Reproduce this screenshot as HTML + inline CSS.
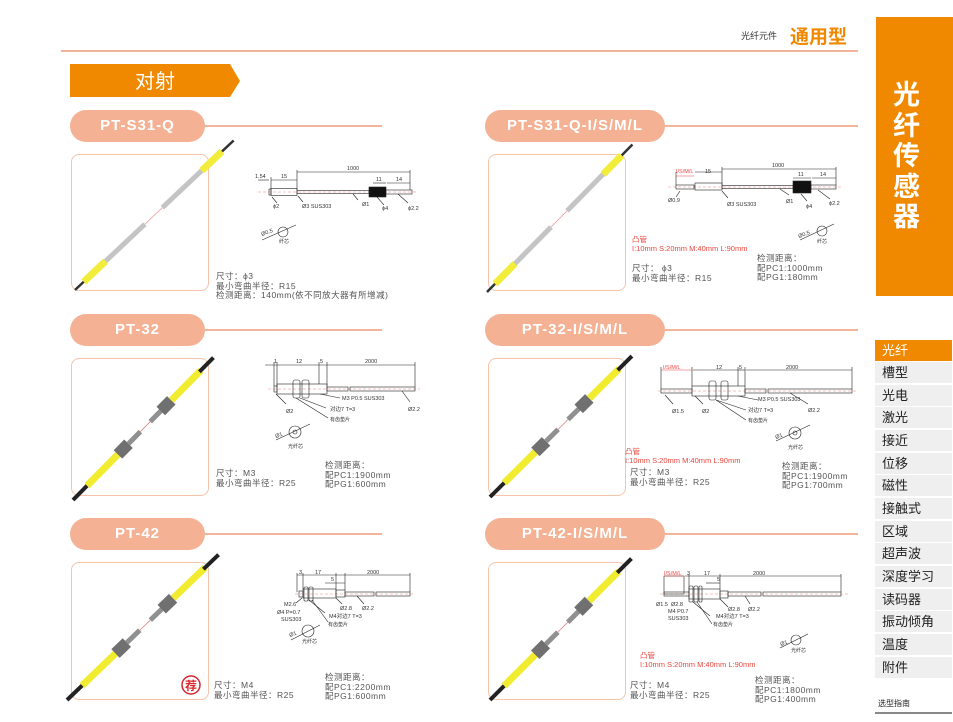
<!DOCTYPE html>
<html><head><meta charset="utf-8">
<style>
html,body{margin:0;padding:0;background:#fff;}
body{width:953px;height:722px;position:relative;overflow:hidden;font-family:"Liberation Sans","Noto Sans CJK SC",sans-serif;}
.a{position:absolute;white-space:nowrap;}
.pill{position:absolute;height:32px;border-radius:16px;background:#f4b193;color:#fff;font-weight:bold;font-size:15px;letter-spacing:1px;text-align:center;line-height:32px;}
.ln{position:absolute;height:2px;background:#f4b49c;}
.box{position:absolute;border:1px solid #f5c3aa;border-radius:8px;background:#fff;}
.t{font-size:8.5px;color:#555;line-height:9.5px;letter-spacing:0.5px;}
.r{color:#e8463c;font-size:7.5px;line-height:9px;}
.side{position:absolute;left:875px;width:77px;height:21px;background:#efefef;color:#222;font-size:13px;line-height:21px;padding-left:7px;box-sizing:border-box;}
</style></head><body>

<div class="a" style="left:741px;top:29px;font-size:9px;color:#333;">光纤元件</div>
<div class="a" style="left:790px;top:22px;font-size:19px;font-weight:bold;color:#f08800;">通用型</div>
<div class="ln" style="left:61px;top:50px;width:797px;"></div>

<div class="a" style="left:876px;top:17px;width:77px;height:279px;background:#f08800;"></div>
<div class="a" style="left:893px;top:80px;width:30px;font-size:27px;font-weight:bold;color:#fff;line-height:30.5px;white-space:normal;">光纤传感器</div>

<svg class="a" style="left:70px;top:64px" width="172" height="34"><polygon points="0,0 160,0 170,17 160,33 0,33" fill="#f08800"/><text x="85" y="24" font-size="20" fill="#fff" text-anchor="middle" font-family="Liberation Sans,Noto Sans CJK SC,sans-serif">对射</text></svg>

<div class="pill" style="left:70px;top:110px;width:135px;">PT-S31-Q</div>
<div class="ln" style="left:205px;top:125px;width:177px;"></div>
<div class="pill" style="left:485px;top:110px;width:180px;">PT-S31-Q-I/S/M/L</div>
<div class="ln" style="left:665px;top:125px;width:193px;"></div>
<div class="pill" style="left:70px;top:314px;width:135px;">PT-32</div>
<div class="ln" style="left:205px;top:329px;width:177px;"></div>
<div class="pill" style="left:485px;top:314px;width:180px;">PT-32-I/S/M/L</div>
<div class="ln" style="left:665px;top:329px;width:193px;"></div>
<div class="pill" style="left:70px;top:518px;width:135px;">PT-42</div>
<div class="ln" style="left:205px;top:533px;width:177px;"></div>
<div class="pill" style="left:485px;top:518px;width:180px;">PT-42-I/S/M/L</div>
<div class="ln" style="left:665px;top:533px;width:193px;"></div>

<div class="box" style="left:71px;top:154px;width:136px;height:135px;"></div>
<div class="box" style="left:488px;top:154px;width:136px;height:135px;"></div>
<div class="box" style="left:71px;top:358px;width:136px;height:136px;"></div>
<div class="box" style="left:488px;top:358px;width:136px;height:136px;"></div>
<div class="box" style="left:71px;top:562px;width:136px;height:136px;"></div>
<div class="box" style="left:488px;top:562px;width:136px;height:136px;"></div>

<svg class="a" style="left:0;top:0" width="953" height="722" font-family="Liberation Sans,Noto Sans CJK SC,sans-serif">
<defs>
<g id="s31">
<line x1="0" y1="0" x2="14" y2="0" stroke="#333" stroke-width="2.5"/>
<rect x="12" y="-3.5" width="30" height="7" fill="#f2ec3a"/>
<rect x="42" y="-2.5" width="54" height="5" fill="#c4c4c4"/>
<line x1="96" y1="0" x2="120" y2="0" stroke="#f0a0a0" stroke-width="0.8"/>
<rect x="120" y="-2.5" width="54" height="5" fill="#c4c4c4"/>
<rect x="174" y="-3.5" width="28" height="7" fill="#f2ec3a"/>
<line x1="202" y1="0" x2="218" y2="0" stroke="#333" stroke-width="2.5"/>
</g>
<g id="s32">
<line x1="0" y1="0" x2="22" y2="0" stroke="#222" stroke-width="4"/>
<rect x="20" y="-3.5" width="46" height="7" fill="#f2ec30"/>
<rect x="64" y="-6" width="15" height="12" fill="#707070"/>
<rect x="79" y="-2.5" width="17" height="5" fill="#909090"/>
<line x1="96" y1="0" x2="110" y2="0" stroke="#e08080" stroke-width="0.8"/>
<rect x="110" y="-2.5" width="16" height="5" fill="#909090"/>
<rect x="125" y="-6" width="15" height="12" fill="#707070"/>
<rect x="140" y="-3.5" width="42" height="7" fill="#f2ec30"/>
<line x1="180" y1="0" x2="200" y2="0" stroke="#222" stroke-width="4"/>
</g>
</defs>
<use href="#s31" transform="translate(75,290) rotate(-43.3)"/>
<use href="#s31" transform="translate(487,292) rotate(-45.4) scale(0.95,1)"/>
<use href="#s32" transform="translate(73,500) rotate(-45.4)"/>
<use href="#s32" transform="translate(490,497) rotate(-44.8)"/>
<use href="#s32" transform="translate(67,700) rotate(-43.8) scale(1.05,1)"/>
<use href="#s32" transform="translate(490,700) rotate(-45)"/>
<circle cx="191" cy="685" r="9" fill="#fff" stroke="#d9262c" stroke-width="1.5"/>
<text x="191" y="690" font-size="12" font-weight="bold" fill="#d9262c" text-anchor="middle">荐</text>

<g stroke="#222" stroke-width="0.6" fill="none">
<line x1="258" y1="192" x2="418" y2="192" stroke="#e88" stroke-dasharray="3,2"/>
<rect x="269" y="189" width="2" height="6"/><rect x="271" y="188.5" width="26" height="7"/>
<rect x="297" y="190.5" width="72" height="3"/>
<rect x="369" y="187" width="17" height="10" fill="#111"/><rect x="386" y="190" width="26" height="4"/>
<line x1="297" y1="172" x2="410" y2="172"/><line x1="271" y1="180" x2="297" y2="180"/><line x1="258" y1="180" x2="269" y2="180"/>
<line x1="373" y1="183" x2="386" y2="183"/><line x1="387" y1="183" x2="410" y2="183"/>
<line x1="297" y1="170" x2="297" y2="190"/><line x1="410" y1="170" x2="410" y2="190"/><line x1="271" y1="177" x2="271" y2="189"/>
<line x1="272" y1="197" x2="277" y2="203"/><line x1="298" y1="196" x2="303" y2="202"/><line x1="353" y1="194" x2="358" y2="200"/><line x1="377" y1="197" x2="384" y2="205"/><line x1="398" y1="194" x2="408" y2="203"/>
<circle cx="283" cy="232" r="5"/><line x1="262" y1="240" x2="296" y2="225"/>
<line x1="668" y1="187" x2="842" y2="187" stroke="#e88" stroke-dasharray="3,2"/>
<rect x="676" y="185" width="18" height="4"/><rect x="695" y="183" width="27" height="7"/>
<rect x="722" y="185.5" width="71" height="3"/>
<rect x="793" y="181" width="18" height="12" fill="#111"/><rect x="811" y="185" width="25" height="4"/>
<line x1="722" y1="169" x2="836" y2="169"/><line x1="695" y1="172" x2="722" y2="172"/><line x1="676" y1="176" x2="694" y2="176" stroke="#e44"/>
<line x1="793" y1="178" x2="811" y2="178"/><line x1="812" y1="178" x2="836" y2="178"/>
<line x1="722" y1="167" x2="722" y2="185"/><line x1="836" y1="167" x2="836" y2="185"/><line x1="676" y1="172" x2="676" y2="185"/>
<line x1="680" y1="191" x2="676" y2="197"/><line x1="722" y1="191" x2="728" y2="198"/><line x1="780" y1="189" x2="789" y2="195"/><line x1="801" y1="194" x2="807" y2="201"/><line x1="818" y1="190" x2="830" y2="199"/>
<circle cx="822" cy="231" r="5"/><line x1="800" y1="240" x2="834" y2="224"/>
<line x1="268" y1="389" x2="420" y2="389" stroke="#e88" stroke-dasharray="3,2"/>
<rect x="274" y="386" width="3" height="6"/><rect x="277" y="384" width="50" height="10"/>
<rect x="293" y="380" width="7" height="18" rx="2"/><rect x="302" y="380" width="7" height="18" rx="2"/>
<rect x="327" y="387" width="21" height="4"/><rect x="350" y="387" width="65" height="4"/>
<line x1="265" y1="365" x2="327" y2="365"/><line x1="327" y1="365" x2="415" y2="365"/>
<line x1="274" y1="362" x2="274" y2="386"/><line x1="277" y1="362" x2="277" y2="386"/><line x1="319" y1="362" x2="319" y2="384"/><line x1="327" y1="362" x2="327" y2="386"/><line x1="415" y1="362" x2="415" y2="387"/>
<line x1="276" y1="394" x2="286" y2="404"/><line x1="300" y1="398" x2="326" y2="408"/><line x1="296" y1="398" x2="328" y2="418"/><line x1="320" y1="394" x2="340" y2="398"/><line x1="402" y1="391" x2="410" y2="402"/>
<circle cx="295" cy="432" r="6"/><circle cx="295" cy="432" r="2"/><line x1="276" y1="440" x2="310" y2="424"/>
<line x1="658" y1="391" x2="856" y2="391" stroke="#e88" stroke-dasharray="3,2"/>
<rect x="661" y="389" width="31" height="4"/><rect x="692" y="386" width="53" height="10"/>
<rect x="709" y="381" width="7" height="19" rx="2"/><rect x="721" y="381" width="7" height="19" rx="2"/>
<rect x="745" y="389" width="21" height="4"/><rect x="768" y="389" width="84" height="4"/>
<line x1="661" y1="370" x2="692" y2="370" stroke="#e44"/><line x1="693" y1="370" x2="738" y2="370"/><line x1="738" y1="370" x2="745" y2="370"/><line x1="746" y1="370" x2="852" y2="370"/>
<line x1="661" y1="367" x2="661" y2="389"/><line x1="692" y1="367" x2="692" y2="386"/><line x1="738" y1="367" x2="738" y2="386"/><line x1="745" y1="367" x2="745" y2="386"/><line x1="852" y1="367" x2="852" y2="389"/>
<line x1="665" y1="395" x2="673" y2="404"/><line x1="695" y1="396" x2="703" y2="404"/><line x1="716" y1="400" x2="746" y2="410"/><line x1="716" y1="400" x2="746" y2="420"/><line x1="738" y1="396" x2="758" y2="400"/><line x1="790" y1="393" x2="808" y2="404"/>
<circle cx="795" cy="433" r="6"/><circle cx="795" cy="433" r="2"/><line x1="776" y1="441" x2="810" y2="425"/>
<line x1="295" y1="594" x2="414" y2="594" stroke="#e88" stroke-dasharray="3,2"/>
<rect x="299" y="591" width="4" height="6"/><rect x="304" y="587" width="4" height="14" rx="1"/><rect x="309" y="587" width="4" height="14" rx="1"/>
<rect x="303" y="589" width="33" height="9"/><rect x="336" y="590" width="9" height="7"/>
<rect x="345" y="592" width="29" height="4"/><rect x="376" y="592" width="34" height="4"/>
<line x1="297" y1="575" x2="345" y2="575"/><line x1="345" y1="575" x2="410" y2="575"/><line x1="325" y1="583" x2="345" y2="583"/>
<line x1="297" y1="573" x2="297" y2="592"/><line x1="303" y1="573" x2="303" y2="589"/><line x1="336" y1="573" x2="336" y2="589"/><line x1="345" y1="573" x2="345" y2="590"/><line x1="410" y1="573" x2="410" y2="592"/>
<line x1="302" y1="598" x2="296" y2="603"/><line x1="309" y1="600" x2="325" y2="613"/><line x1="312" y1="600" x2="328" y2="622"/><line x1="336" y1="598" x2="342" y2="604"/><line x1="357" y1="596" x2="364" y2="604"/>
<circle cx="308" cy="631" r="6"/><line x1="291" y1="640" x2="320" y2="625"/>
<line x1="660" y1="594" x2="848" y2="594" stroke="#e88" stroke-dasharray="3,2"/>
<rect x="664" y="576" width="20" height="18"/><rect x="664" y="592" width="25" height="4"/>
<rect x="689" y="586" width="4" height="16" rx="1"/><rect x="694" y="586" width="4" height="16" rx="1"/><rect x="699" y="586" width="3" height="16" rx="1"/>
<rect x="689" y="589" width="31" height="10"/><rect x="720" y="591" width="8" height="7"/>
<rect x="728" y="592" width="33" height="4"/><rect x="763" y="592" width="78" height="4"/>
<line x1="664" y1="576" x2="684" y2="576" stroke="#e44"/><line x1="685" y1="576" x2="720" y2="576"/><line x1="720" y1="576" x2="841" y2="576"/><line x1="706" y1="583" x2="720" y2="583"/>
<line x1="689" y1="574" x2="689" y2="589"/><line x1="720" y1="574" x2="720" y2="589"/><line x1="841" y1="574" x2="841" y2="592"/>
<line x1="693" y1="602" x2="710" y2="616"/><line x1="697" y1="602" x2="712" y2="624"/><line x1="720" y1="599" x2="728" y2="607"/><line x1="745" y1="596" x2="750" y2="604"/>
<circle cx="796" cy="640" r="5"/><line x1="780" y1="648" x2="808" y2="634"/>
</g>

<g font-size="5.5" fill="#333">
<text x="255" y="178">1.54</text><text x="281" y="178">15</text><text x="347" y="170">1000</text><text x="376" y="181">11</text><text x="396" y="181">14</text>
<text x="273" y="208">ϕ2</text><text x="302" y="208">Ø3 SUS303</text><text x="362" y="206">Ø1</text><text x="382" y="210">ϕ4</text><text x="408" y="210">ϕ2.2</text>
<text x="262" y="236" transform="rotate(-20 262 236)">Ø0.5</text><text x="279" y="243" font-size="5">纤芯</text>
<text x="676" y="173" fill="#e44">I/S/M/L</text><text x="705" y="173">15</text><text x="772" y="167">1000</text><text x="798" y="176">11</text><text x="820" y="176">14</text>
<text x="668" y="202">Ø0.9</text><text x="727" y="206">Ø3 SUS303</text><text x="786" y="203">Ø1</text><text x="806" y="208">ϕ4</text><text x="829" y="205">ϕ2.2</text>
<text x="799" y="238" transform="rotate(-20 799 238)">Ø0.5</text><text x="817" y="243" font-size="5">纤芯</text>
<text x="274" y="363">1</text><text x="296" y="363">12</text><text x="320" y="363">5</text><text x="365" y="363">2000</text>
<text x="286" y="413">Ø2</text><text x="342" y="400">M3 P0.5 SUS303</text><text x="330" y="411">对边7 T=3</text><text x="330" y="421" font-size="5">有齿垫片</text><text x="408" y="411">Ø2.2</text>
<text x="276" y="438" transform="rotate(-20 276 438)">Ø1</text><text x="288" y="448" font-size="5">光纤芯</text>
<text x="663" y="369" fill="#e44">I/S/M/L</text><text x="716" y="369">12</text><text x="739" y="369">5</text><text x="786" y="369">2000</text>
<text x="672" y="413">Ø1.5</text><text x="702" y="413">Ø2</text><text x="758" y="401">M3 P0.5 SUS303</text><text x="748" y="412">对边7 T=3</text><text x="748" y="422" font-size="5">有齿垫片</text><text x="808" y="412">Ø2.2</text>
<text x="776" y="439" transform="rotate(-20 776 439)">Ø1</text><text x="788" y="449" font-size="5">光纤芯</text>
<text x="299" y="574">3</text><text x="315" y="574">17</text><text x="367" y="574">2000</text><text x="331" y="581">5</text>
<text x="284" y="606">M2.6</text><text x="277" y="614">Ø4 P=0.7</text><text x="281" y="621">SUS303</text><text x="340" y="610">Ø2.8</text><text x="362" y="610">Ø2.2</text><text x="329" y="618">M4对边7 T=3</text><text x="328" y="626" font-size="5">有齿垫片</text>
<text x="290" y="637" transform="rotate(-20 290 637)">Ø1</text><text x="302" y="643" font-size="5">光纤芯</text>
<text x="664" y="575" fill="#e44">I/S/M/L</text><text x="687" y="575">3</text><text x="704" y="575">17</text><text x="717" y="581">5</text><text x="753" y="575">2000</text>
<text x="656" y="606">Ø1.5</text><text x="671" y="606">Ø2.8</text><text x="668" y="613">M4 P0.7</text><text x="668" y="620">SUS303</text><text x="728" y="611">Ø2.8</text><text x="748" y="611">Ø2.2</text><text x="716" y="618">M4对边7 T=3</text><text x="713" y="626" font-size="5">有齿垫片</text>
<text x="781" y="646" transform="rotate(-20 781 646)">Ø1</text><text x="791" y="652" font-size="5">光纤芯</text>
</g>
</svg>

<div class="a t" style="left:216px;top:272px;">尺寸：ϕ3<br>最小弯曲半径：R15<br>检测距离：140mm(依不同放大器有所增减)</div>
<div class="a r" style="left:632px;top:235px;">凸管<br>I:10mm S:20mm M:40mm L:90mm</div>
<div class="a t" style="left:632px;top:264px;">尺寸： ϕ3<br>最小弯曲半径：R15</div>
<div class="a t" style="left:757px;top:254px;">检测距离：<br>配PC1:1000mm<br>配PG1:180mm</div>

<div class="a t" style="left:216px;top:469px;">尺寸：M3<br>最小弯曲半径：R25</div>
<div class="a t" style="left:325px;top:461px;">检测距离：<br>配PC1:1900mm<br>配PG1:600mm</div>
<div class="a r" style="left:625px;top:447px;">凸管<br>I:10mm S:20mm M:40mm L:90mm</div>
<div class="a t" style="left:630px;top:468px;">尺寸：M3<br>最小弯曲半径：R25</div>
<div class="a t" style="left:782px;top:462px;">检测距离：<br>配PC1:1900mm<br>配PG1:700mm</div>

<div class="a t" style="left:214px;top:681px;">尺寸：M4<br>最小弯曲半径：R25</div>
<div class="a t" style="left:325px;top:673px;">检测距离：<br>配PC1:2200mm<br>配PG1:600mm</div>
<div class="a r" style="left:640px;top:651px;">凸管<br>I:10mm S:20mm M:40mm L:90mm</div>
<div class="a t" style="left:630px;top:681px;">尺寸：M4<br>最小弯曲半径：R25</div>
<div class="a t" style="left:755px;top:676px;">检测距离：<br>配PC1:1800mm<br>配PG1:400mm</div>

<div class="side" style="top:340px;background:#f08800;color:#fff;">光纤</div>
<div class="side" style="top:362px;">槽型</div>
<div class="side" style="top:385px;">光电</div>
<div class="side" style="top:407px;">激光</div>
<div class="side" style="top:430px;">接近</div>
<div class="side" style="top:453px;">位移</div>
<div class="side" style="top:475px;">磁性</div>
<div class="side" style="top:498px;">接触式</div>
<div class="side" style="top:521px;">区域</div>
<div class="side" style="top:543px;">超声波</div>
<div class="side" style="top:566px;">深度学习</div>
<div class="side" style="top:589px;">读码器</div>
<div class="side" style="top:611px;">振动倾角</div>
<div class="side" style="top:634px;">温度</div>
<div class="side" style="top:657px;">附件</div>
<div class="a" style="left:878px;top:698px;font-size:8px;color:#222;">选型指南</div>
<div class="a" style="left:875px;top:712px;width:77px;height:2px;background:#888;"></div>
</body></html>
